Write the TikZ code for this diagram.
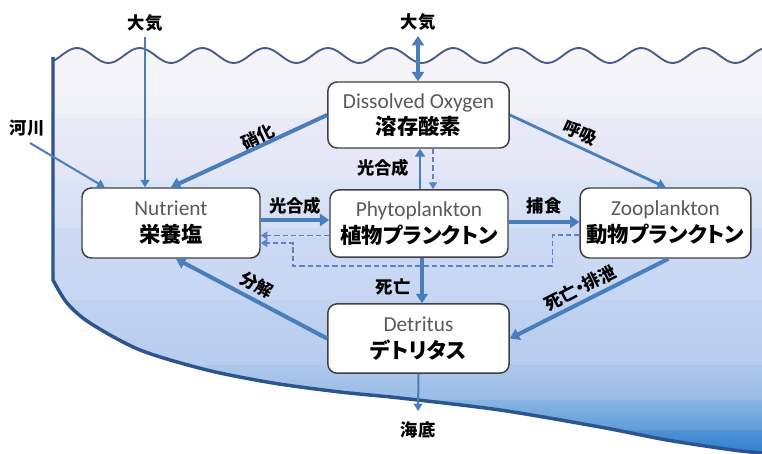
\documentclass[tikz,border=0pt]{standalone}
\usepackage{fontspec}
\usetikzlibrary{arrows.meta,calc}
\newfontfamily\jp[RawFeature={+palt}]{Noto Sans CJK JP}
\newfontfamily\en{Carlito}
\definecolor{arrowblue}{HTML}{4A7EBB}
\definecolor{dashblue}{HTML}{5B84C4}
\definecolor{boxgray}{HTML}{404040}
\definecolor{engray}{HTML}{5A5A5A}
\definecolor{edgeblue}{HTML}{2C558F}
\definecolor{wavecol}{HTML}{4B5A8A}
\definecolor{wA}{HTML}{F5F5F9}
\definecolor{wB}{HTML}{F0F0F8}
\definecolor{wC}{HTML}{E9E9F8}
\definecolor{wD}{HTML}{E4E6F6}
\definecolor{wE}{HTML}{DCE5F6}
\definecolor{wF}{HTML}{D4DFF5}
\definecolor{wG}{HTML}{CDDAF4}
\definecolor{wH}{HTML}{C6D6F2}
\definecolor{wI}{HTML}{C0D2F0}
\definecolor{wJ}{HTML}{B8CCEE}
\definecolor{wK}{HTML}{AEC7EB}
\definecolor{wL}{HTML}{98BCE6}
\definecolor{wM}{HTML}{88B4E2}
\definecolor{wN}{HTML}{5F9CD9}
\definecolor{wO}{HTML}{4F92D6}
\definecolor{wP}{HTML}{2E7FCF}
\tikzset{
  box/.style={draw=boxgray, line width=1.1pt, rounded corners=7pt, fill=white,
    align=center, inner sep=0pt, font=\fontsize{16}{20}\selectfont},
  lbl/.style={font=\jp\bfseries\fontsize{13}{15}\selectfont, text=black, inner sep=1pt},
  thickarr/.style={draw=arrowblue, line width=3pt, -{Triangle[length=7pt,width=9pt]}},
  medarr/.style={draw=arrowblue, line width=2.1pt, -{Triangle[length=6pt,width=7.5pt]}},
  thinarr/.style={draw=arrowblue, line width=1.5pt, -{Triangle[length=5.5pt,width=6.5pt]}},
  dasharr/.style={draw=dashblue, line width=1.4pt, dash pattern=on 4pt off 2.2pt, -{Triangle[length=5pt,width=6pt]}},
}
\def\wavepath{plot[domain=53:762,samples=220] (\x,{55.5-7.5*cos(5.7416*(\x-77))})}
\def\floorpts{(762,453) (733,450) (667,440) (600,427) (500,410) (400,398) (340,392) (273,383) (207,370) (140,350) (90,323) (67,303) (53,280)}
\begin{document}
\begin{tikzpicture}[x=0.75pt,y=-0.75pt]
\useasboundingbox (0,0) rectangle (762,453);
\fill[white] (0,0) rectangle (762,453);
% water
\begin{scope}
  \clip \wavepath -- plot[smooth] coordinates {\floorpts} -- cycle;
  \fill[top color=wA, bottom color=wB] (0,40) rectangle (762,119);
  \fill[top color=wC, bottom color=wD] (0,118) rectangle (762,179);
  \fill[top color=wE, bottom color=wF] (0,178) rectangle (762,229);
  \fill[top color=wG, bottom color=wH] (0,228) rectangle (762,301);
  \fill[top color=wI, bottom color=wJ] (0,300) rectangle (762,366);
  \fill[top color=wK, bottom color=wL] (0,365) rectangle (762,401);
  \fill[top color=wM, bottom color=wN] (0,400) rectangle (762,431);
  \fill[top color=wO, bottom color=wP] (0,430) rectangle (762,454);
\end{scope}
\draw[wavecol, line width=1.4pt] \wavepath;
\draw[edgeblue, line width=2.6pt] (53,57) -- plot[smooth] coordinates {(53,280) (67,303) (90,323) (140,350) (207,370) (273,383) (340,392) (400,398) (500,410) (600,427) (667,440) (733,450) (762,453)};

% boxes
\node[box, minimum width=136pt, minimum height=49.5pt] (do) at (418.5,115)
  {{\en\color{engray}Dissolved Oxygen}\\{\jp\bfseries 溶存酸素}};
\node[box, minimum width=133.5pt, minimum height=52.5pt] (nut) at (171,223)
  {{\en\color{engray}Nutrient}\\{\jp\bfseries 栄養塩}};
\node[box, minimum width=133.5pt, minimum height=50.5pt] (phy) at (419,223.5)
  {{\en\color{engray}Phytoplankton}\\{\jp\bfseries 植物プランクトン}};
\node[box, minimum width=128pt, minimum height=52.5pt] (zoo) at (665.5,223)
  {{\en\color{engray}Zooplankton}\\{\jp\bfseries 動物プランクトン}};
\node[box, minimum width=136pt, minimum height=52pt] (det) at (418.5,338.5)
  {{\en\color{engray}Detritus}\\{\jp\bfseries デトリタス}};

% free ends
\coordinate (atmL) at (145,37);
\coordinate (atmC) at (418,36);
\coordinate (riv) at (30,143);
\coordinate (floor) at (418,411);

% labels
\node[lbl] (lAtmL) at (145,23) {大気};
\node[lbl] (lAtmC) at (418,22) {大気};
\node[lbl] (lRiv) at (27,128) {河川};
\node[lbl, rotate=25] (lNit) at (258,137) {硝化};
\node[lbl, rotate=-25] (lResp) at (580,133) {呼吸};
\node[lbl] (lPhoV) at (383,168) {光合成};
\node[lbl] (lPhoH) at (295,206) {光合成};
\node[lbl] (lPred) at (544,206) {捕食};
\node[lbl] (lDeath) at (393,287) {死亡};
\node[lbl, rotate=-28] (lDec) at (257,285) {分解};
\node[lbl, rotate=27] (lDE) at (580,288) {死亡・排泄};
\node[lbl] (lFloor) at (418,430) {海底};

% connectors
\draw[thinarr] (atmL) -- (atmL |- nut.north);
\draw[thinarr] (riv) -- ($(nut.north west)!0.13!(nut.north east)$);
\draw[thickarr] (do.west) -- (nut.north);
\draw[thickarr, {Triangle[length=7pt,width=9pt]}-{Triangle[length=7pt,width=9pt]}] (atmC) -- (atmC |- do.north);
\draw[medarr] (do.east) -- (zoo.north);
\draw[medarr] ($(phy.north)+(1,0)$) -- ($(do.south)+(1.5,0)$);
\draw[dasharr] ($(do.south)+(14.5,0)$) -- ($(phy.north)+(14,0)$);
\draw[thickarr] ($(nut.east)+(0,-3)$) -- ($(phy.west)+(0,-3.5)$);
\draw[dasharr] ($(phy.west)+(0,12)$) -- ($(nut.east)+(0,12.5)$);
\draw[dasharr] ($(zoo.west)+(0,12)$) -- ++(-27,0) |- (293,266) -- (293,243) -- ($(nut.east)+(0,20)$);
\draw[thickarr] ($(phy.east)+(0,-1.5)$) -- ($(zoo.west)+(0,-1)$);
\draw[thickarr] ($(phy.south)+(3,0)$) -- ($(det.north)+(3.5,0)$);
\draw[thickarr] ($(zoo.south)+(3,0)$) -- (det.east);
\draw[thickarr] (det.west) -- ($(nut.south)+(5,0)$);
\draw[thinarr] (det.south) -- (floor);
\end{tikzpicture}
\end{document}
